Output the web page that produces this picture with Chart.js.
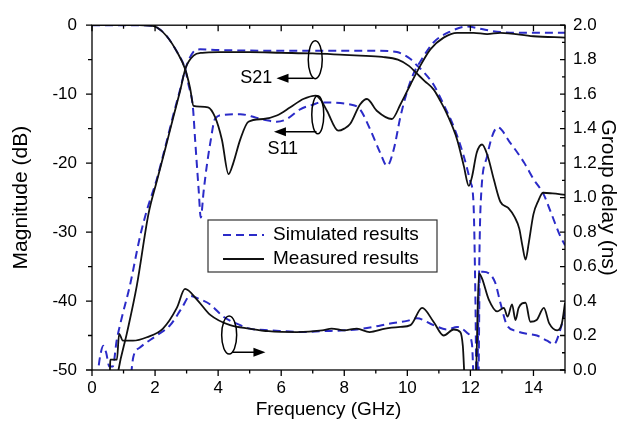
<!DOCTYPE html>
<html><head><meta charset="utf-8">
<script src="https://cdn.jsdelivr.net/npm/chart.js@4/dist/chart.umd.min.js"></script>
<style>html,body{margin:0;padding:0;background:#fff}</style>
</head><body>
<canvas id="c" width="625" height="429" style="width:625px;height:429px;display:block"></canvas>
<script>
// ---- tick labels ----
const xTickValues = [0, 2, 4, 6, 8, 10, 12, 14];
const magTickValues = [-50, -40, -30, -20, -10, 0];
const delayTickValues = [0, 0.2, 0.4, 0.6, 0.8, 1.0, 1.2, 1.4, 1.6, 1.8, 2.0];

// ---- S21 measured (dB) ----
const s21MeasFreq = [0.7, 0.84, 1.1, 1.42, 1.79, 2.05, 2.32, 2.58, 2.79, 2.97, 3.22, 3.5, 4.0, 5.0, 6.0, 7.0, 8.0, 8.5, 9.2, 9.7, 10.05, 10.3, 10.55, 10.83, 11.05, 11.26, 11.58, 11.79, 11.95, 12.05, 12.2, 12.37, 12.55, 12.75, 12.95, 13.2, 13.4, 13.55, 13.65, 13.75, 13.85, 14.0, 14.15, 14.3, 14.6, 15.0];
const s21MeasDb   = [-55, -50, -44.8, -37.8, -27.4, -22.7, -18, -13.3, -9.6, -6.2, -4.4, -4.0, -3.9, -3.9, -4.0, -4.1, -4.3, -4.4, -4.6, -5.0, -5.9, -7.0, -8.1, -9.3, -11, -12.9, -16.6, -20.4, -23.3, -22, -18.5, -17.3, -19, -22.5, -25.6, -26.5, -27.8, -29.5, -32, -34, -31.6, -27.4, -25.5, -24.3, -24.4, -24.6];

// ---- S21 simulated (dB) ----
const s21SimFreq = [0.12, 0.2, 0.28, 0.36, 0.45, 0.55, 0.66, 0.78, 0.94, 1.2, 1.52, 1.73, 2.05, 2.32, 2.58, 2.79, 2.97, 3.21, 3.43, 4.0, 6.0, 8.0, 9.0, 9.67, 10.1, 10.3, 10.5, 10.83, 11.15, 11.47, 11.79, 12.0, 12.1, 12.16, 12.2, 12.26, 12.32, 12.53, 12.69, 12.86, 13.27, 13.7, 14.0, 14.33, 14.54, 14.86, 15.0];
const s21SimDb   = [-55, -50, -47.5, -46.5, -47.5, -49.5, -49.5, -45.8, -42.5, -37.8, -30.7, -27, -22.4, -17.7, -13, -9.4, -6.2, -3.9, -3.5, -3.6, -3.7, -3.7, -3.7, -3.9, -4.9, -5.8, -6.7, -8.6, -11.5, -14.7, -19, -22.7, -26, -40, -55, -40, -26.5, -19, -16.1, -14.8, -17.1, -19.9, -22.3, -24.6, -27, -30.7, -31.9];

// ---- S11 measured (dB) ----
const s11MeasFreq = [0, 1.5, 1.8, 2.05, 2.37, 2.7, 2.95, 3.11, 3.22, 3.43, 3.68, 3.9, 4.12, 4.33, 4.48, 4.7, 4.96, 5.44, 5.86, 6.29, 6.7, 7.1, 7.25, 7.45, 7.81, 8.0, 8.19, 8.5, 8.72, 9.03, 9.51, 9.78, 10.1, 10.36, 10.73, 11.15, 11.58, 12.1, 12.53, 12.95, 14.0, 15.0];
const s11MeasDb   = [0, 0, -0.05, -0.3, -1.6, -3.9, -6.3, -9.1, -11.7, -11.8, -11.9, -13.3, -16.6, -21.6, -20, -16.6, -14, -13.6, -13.1, -11.9, -10.7, -10.2, -10.8, -12.4, -15.3, -15.0, -14.3, -11.5, -10.7, -12.4, -13.6, -11.5, -8.6, -6.3, -3.5, -1.8, -1.1, -1.1, -1.3, -1.1, -1.6, -1.8];

// ---- S11 simulated (dB) ----
const s11SimFreq = [0, 1.5, 1.8, 2.05, 2.37, 2.7, 2.95, 3.06, 3.2, 3.27, 3.38, 3.45, 3.54, 3.64, 3.75, 3.9, 4.17, 4.7, 5.2, 5.55, 5.86, 6.18, 6.6, 7.02, 7.24, 8.19, 8.5, 8.83, 9.14, 9.36, 9.57, 9.78, 10.0, 10.2, 10.41, 10.83, 11.37, 11.9, 12.4, 12.95, 14.0, 15.0];
const s11SimDb   = [0, 0, -0.05, -0.3, -1.6, -3.9, -6.3, -8.6, -11.9, -16.6, -23.7, -27.9, -24.1, -20.4, -17.1, -13.6, -13.0, -12.9, -13.4, -13.8, -14.0, -13.6, -12.2, -11.5, -11.2, -11.5, -12.2, -15.2, -18.5, -20.4, -18, -13.3, -9.5, -7, -5.3, -2.5, -0.9, -0.2, -0.6, -1.0, -1.1, -1.1];

// ---- Group delay measured (ns) ----
const gdMeasFreq = [0.5, 0.57, 0.58, 0.79, 0.86, 0.98, 1.3, 1.74, 2.25, 2.69, 2.95, 3.32, 3.75, 4.38, 5.0, 5.6, 6.5, 7.3, 7.6, 8.0, 8.4, 8.8, 9.3, 9.78, 10.1, 10.47, 10.83, 11.15, 11.47, 11.68, 11.76, 11.84, 12.16, 12.27, 12.37, 12.58, 12.85, 13.06, 13.18, 13.32, 13.43, 13.53, 13.75, 13.9, 14.1, 14.33, 14.5, 14.75, 14.9, 15.0];
const gdMeasNs   = [-0.1, 0.0, 0.06, 0.06, 0.21, 0.17, 0.17, 0.19, 0.24, 0.36, 0.47, 0.41, 0.32, 0.26, 0.24, 0.225, 0.22, 0.23, 0.24, 0.23, 0.24, 0.22, 0.24, 0.25, 0.26, 0.36, 0.28, 0.2, 0.235, 0.22, 0.14, -0.1, -0.1, 0.56, 0.53, 0.41, 0.34, 0.36, 0.31, 0.38, 0.29, 0.36, 0.39, 0.28, 0.29, 0.36, 0.27, 0.23, 0.27, 0.39];

// ---- Group delay simulated (ns) ----
const gdSimFreq = [1.2, 1.31, 1.52, 2.05, 2.48, 2.85, 3.11, 3.43, 3.75, 4.16, 4.7, 5.0, 5.7, 6.7, 7.3, 8.0, 8.4, 8.92, 9.46, 9.99, 10.3, 10.83, 11.26, 11.58, 11.9, 12.05, 12.12, 12.25, 12.3, 12.4, 12.78, 12.95, 13.16, 13.48, 13.8, 14.11, 14.43, 14.65, 14.86, 15.0];
const gdSimNs   = [-0.1, 0.075, 0.13, 0.2, 0.26, 0.36, 0.43, 0.41, 0.38, 0.31, 0.26, 0.24, 0.23, 0.22, 0.225, 0.23, 0.235, 0.25, 0.27, 0.285, 0.3, 0.26, 0.235, 0.25, 0.215, 0.15, -0.1, -0.1, 0.57, 0.57, 0.51, 0.39, 0.26, 0.225, 0.21, 0.2, 0.17, 0.15, 0.24, 0.34];

const FONT = 'Liberation Sans, Arial, Helvetica, sans-serif';
const SIM_COLOR = '#2b2bc8';
const MEAS_COLOR = '#111111';
const DASH = [8, 5];

const pts = (xs, ys) => xs.map((x, i) => ({ x: x, y: ys[i] }));

function lineDs(label, xs, ys, axis, sim) {
  return {
    label: label,
    data: pts(xs, ys),
    yAxisID: axis,
    borderColor: sim ? SIM_COLOR : MEAS_COLOR,
    borderWidth: sim ? 2 : 1.8,
    borderDash: sim ? DASH : [],
    pointRadius: 0,
    fill: false,
    cubicInterpolationMode: 'monotone'
  };
}

const decor = {
  id: 'decor',
  afterDraw(chart) {
    const { ctx, chartArea: a, scales } = chart;
    const X = v => scales.x.getPixelForValue(v);
    const Y = v => scales.y.getPixelForValue(v);
    const Y2 = v => scales.y2.getPixelForValue(v);
    ctx.save();
    ctx.strokeStyle = '#000';
    ctx.lineWidth = 1.3;
    ctx.strokeRect(a.left, a.top, a.right - a.left, a.bottom - a.top);
    ctx.beginPath();
    for (let f = 0; f <= 15; f++) {
      const px = X(f), L = f % 2 === 0 ? 6 : 3.5;
      ctx.moveTo(px, a.bottom); ctx.lineTo(px, a.bottom + L);
      ctx.moveTo(px, a.top); ctx.lineTo(px, a.top + L);
    }
    for (let d = -50; d <= 0; d += 5) {
      const py = Y(d), L = d % 10 === 0 ? 6 : 4;
      ctx.moveTo(a.left - L, py); ctx.lineTo(a.left, py);
    }
    for (let i = 0; i <= 20; i++) {
      const py = Y2(i / 10), L = i % 2 === 0 ? 5 : 3;
      ctx.moveTo(a.right, py); ctx.lineTo(a.right - L, py);
    }
    ctx.stroke();

    // annotations: ellipses + arrows
    ctx.lineWidth = 1.5;
    ctx.fillStyle = '#000';
    function ellipse(cx, cy, rx, ry) {
      ctx.beginPath(); ctx.ellipse(cx, cy, rx, ry, 0, 0, Math.PI * 2); ctx.stroke();
    }
    function arrow(x1, y, x2) {
      const dir = x2 > x1 ? 1 : -1;
      ctx.beginPath(); ctx.moveTo(x1, y); ctx.lineTo(x2 - dir * 10, y); ctx.stroke();
      ctx.beginPath(); ctx.moveTo(x2, y); ctx.lineTo(x2 - dir * 12, y - 4.5); ctx.lineTo(x2 - dir * 12, y + 4.5); ctx.closePath(); ctx.fill();
    }
    // S21
    ellipse(X(7.08), Y(-5.0), 7, 19);
    arrow(X(7.02), Y(-7.7), X(5.85));
    // S11
    ellipse(X(7.16), Y(-13.0), 6, 19);
    arrow(X(7.12), Y(-15.45), X(5.77));
    // group delay
    ellipse(X(4.35), Y2(0.203), 7.5, 19);
    arrow(X(4.45), Y2(0.103), X(5.5));

    ctx.font = '18px ' + FONT;
    ctx.textBaseline = 'middle';
    ctx.textAlign = 'right';
    ctx.fillText('S21', X(5.72), Y(-7.7));
    ctx.textAlign = 'center';
    ctx.fillText('S11', X(6.05), Y(-18.0));

    // legend box
    const bx = 208, by = 220, bw = 229, bh = 52;
    ctx.fillStyle = '#fff';
    ctx.fillRect(bx, by, bw, bh);
    ctx.strokeStyle = '#333';
    ctx.lineWidth = 1.2;
    ctx.strokeRect(bx, by, bw, bh);
    ctx.lineWidth = 2;
    ctx.strokeStyle = SIM_COLOR;
    ctx.setLineDash(DASH);
    ctx.beginPath(); ctx.moveTo(223, 235); ctx.lineTo(264, 235); ctx.stroke();
    ctx.setLineDash([]);
    ctx.strokeStyle = MEAS_COLOR;
    ctx.beginPath(); ctx.moveTo(223, 259); ctx.lineTo(264, 259); ctx.stroke();
    ctx.fillStyle = '#000';
    ctx.textAlign = 'left';
    ctx.font = '19px ' + FONT;
    ctx.fillText('Simulated results', 273, 235);
    ctx.fillText('Measured results', 273, 259);
    ctx.restore();
  }
};

const tickFont = { family: FONT, size: 17 };

new Chart(document.getElementById('c'), {
  type: 'line',
  data: {
    datasets: [
      lineDs('S21 measured', s21MeasFreq, s21MeasDb, 'y', false),
      lineDs('S11 measured', s11MeasFreq, s11MeasDb, 'y', false),
      lineDs('Group delay measured', gdMeasFreq, gdMeasNs, 'y2', false),
      lineDs('S21 simulated', s21SimFreq, s21SimDb, 'y', true),
      lineDs('S11 simulated', s11SimFreq, s11SimDb, 'y', true),
      lineDs('Group delay simulated', gdSimFreq, gdSimNs, 'y2', true)
    ]
  },
  options: {
    responsive: false,
    devicePixelRatio: 1,
    animation: false,
    layout: { padding: { top: 15, left: 0, right: 0, bottom: 0 } },
    plugins: { legend: { display: false }, tooltip: { enabled: false } },
    scales: {
      x: {
        type: 'linear', position: 'bottom', min: 0, max: 15,
        afterBuildTicks: s => { s.ticks = xTickValues.map(v => ({ value: v })); },
        afterFit: s => { s.height = 59; },
        grid: { display: false, drawTicks: false },
        border: { display: false },
        ticks: { font: tickFont, color: '#000', padding: 8, maxRotation: 0, autoSkip: false },
        title: { display: true, text: 'Frequency (GHz)', color: '#000', font: { family: FONT, size: 19 }, padding: { top: 0, bottom: 8 } }
      },
      y: {
        type: 'linear', position: 'left', min: -50, max: 0,
        afterBuildTicks: s => { s.ticks = magTickValues.map(v => ({ value: v })); },
        afterFit: s => { s.width = 92; },
        grid: { display: false, drawTicks: false },
        border: { display: false },
        ticks: { font: tickFont, color: '#000', padding: 15, autoSkip: false },
        title: { display: true, text: 'Magnitude (dB)', color: '#000', font: { family: FONT, size: 21 }, padding: { top: 9, bottom: 0 } }
      },
      y2: {
        type: 'linear', position: 'right', min: 0, max: 2,
        afterBuildTicks: s => { s.ticks = delayTickValues.map(v => ({ value: v })); },
        afterFit: s => { s.width = 60; },
        grid: { display: false, drawTicks: false },
        border: { display: false },
        ticks: { font: tickFont, color: '#000', padding: 8, autoSkip: false, callback: v => Number(v).toFixed(1) },
        title: { display: true, text: 'Group delay (ns)', color: '#000', font: { family: FONT, size: 21 }, padding: { top: 5, bottom: 0 } }
      }
    }
  },
  plugins: [decor]
});
</script>
</body></html>
